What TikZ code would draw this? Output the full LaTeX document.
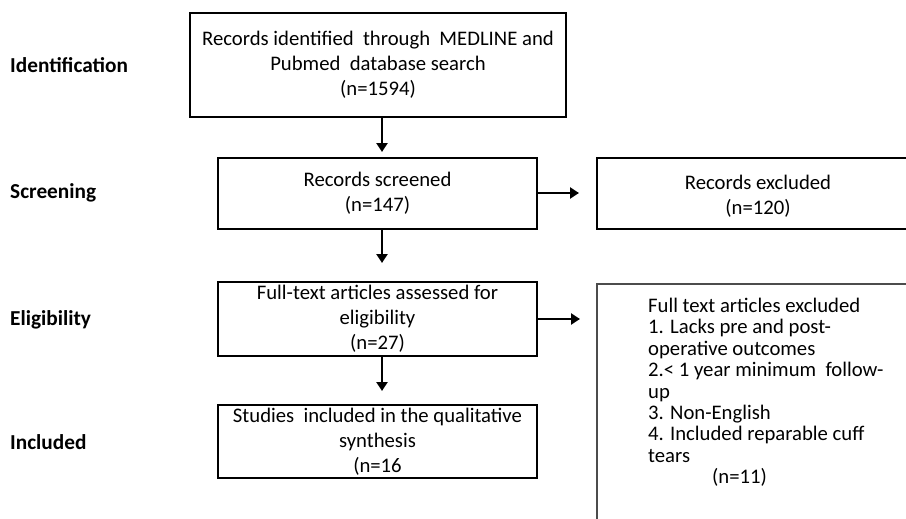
\documentclass[tikz,border=0pt]{standalone}
\usepackage{fontspec}
\setmainfont{Carlito}
\usetikzlibrary{arrows.meta}
\begin{document}
\begin{tikzpicture}[x=1pt,y=-1pt,
  box/.style={draw=black,line width=1.3pt,inner sep=0pt,align=center,font=\fontsize{20.7}{25}\selectfont},
  stage/.style={anchor=west,inner sep=0pt,font=\fontsize{21.3}{24}\selectfont\bfseries},
  txt/.style={inner sep=0pt,font=\fontsize{20.7}{25}\selectfont},
  arr/.style={line width=2.6pt,-{Triangle[length=9pt,width=11pt]}}]
\useasboundingbox (0,0) rectangle (906,519);
% stage labels
\node[stage] (sid) at (10,65) {Identification};
\node[stage] (ssc) at (10,193) {Screening};
\node[stage] (sel) at (10,320) {Eligibility};
\node[stage] (sin) at (10,442) {Included};
% left column
\node[box,minimum width=376pt,minimum height=104pt] (b1) at (378,65) {Records identified~ through~ MEDLINE and\\Pubmed~ database search\\(n=1594)};
\node[box,minimum width=319pt,minimum height=71pt] (b2) at (377.5,193.5) {Records screened\\(n=147)};
\node[box,minimum width=319pt,minimum height=74pt] (b3) at (377.5,319) {Full-text articles assessed for\\eligibility\\(n=27)};
\node[box,minimum width=319pt,minimum height=73pt] (b4) at (377.5,441.5) {Studies~ included in the qualitative\\synthesis\\(n=16};
% right column
\node[draw=black,line width=1.3pt,minimum width=320pt,minimum height=71pt,inner sep=0pt] (r1) at (757,193.5) {};
\node[txt,align=center] (r1t) at (758,196) {Records excluded\\(n=120)};
\node[draw=black!70,line width=1.3pt,minimum width=320pt,minimum height=250pt,inner sep=0pt] (r2) at (757,409) {};
\node[txt,anchor=north west,align=left,font=\fontsize{20.7}{21.4}\selectfont] (r2t) at (648,298) {Full text articles excluded\\1. Lacks pre and post-\\operative outcomes\\2.< 1 year minimum~ follow-\\up\\3. Non-English\\4. Included reparable cuff\\tears\\\hspace*{64pt}(n=11)};
% arrows
\coordinate (ax) at (382,0);
\coordinate (e1) at (382,152);
\coordinate (e2) at (382,263);
\coordinate (e3) at (382,391);
\coordinate (e4) at (579,193);
\coordinate (e5) at (580,319);
\draw[arr] (b1.south -| ax) -- (e1);
\draw[arr] (b2.south -| ax) -- (e2);
\draw[arr] (b3.south -| ax) -- (e3);
\draw[arr] (b2.east |- e4) -- (e4);
\draw[arr] (b3.east |- e5) -- (e5);
\end{tikzpicture}
\end{document}
